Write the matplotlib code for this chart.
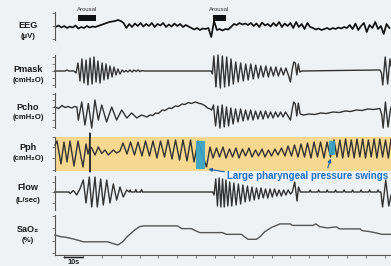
import numpy as np
import matplotlib
matplotlib.use('Agg')
import matplotlib.pyplot as plt
from matplotlib.patches import Rectangle

plt.rcParams['font.family'] = ['Liberation Sans', 'DejaVu Sans']

W, H, DPI = 391, 266, 100
BG = '#eef2f5'
TRACE = '#333333'

# ---------------- data (time in seconds) ----------------
t_start, t_end = -4.88, 173.37
tick_times = list(range(0, 171, 10))
scale_bar = (0, 10)

# EEG, sampled every 1.5 s from -4.5 s (arbitrary units)
eeg_t0, eeg_dt = -4.5, 1.5
eeg_v = [-1, 0.5, -1.5, 0, -2, -0.5, -1.5, 0.5, -2.5, -1, -2, 0, -1.5, -0.5, -1, 0,
         1, 2, 3, 4, 4.5, 5, 6,
         5, 3, -2, 2, -1, 2.5, 0, 3, -0.5, 2, 0, 3, -1, 2, 0.5, 3, -1, 1.5, -0.5, 2.5, 0, 2, -1, 1, -0.5,
         -2, -3.5, -2, -4, -2.5, -3, -2,
         -11, 5,
         -4, -3, -4.5, -3, -3.5, -1,
         2, 1, 3, 1.5, 2.5, 1,
         3, 0, 2.5, -1, 3.5, 0.5, 2, -0.5, 3, 0, 4, -1, 2.5, 0, 3, -2, 4, -1, 2, -3, 3, -1,
         -2, -3.5, -2.5, -4, -3, -2, -3.5, -2, -3, -1.5, -2.5, -1, -2,
         1, -3, 2.5, -4, 0, 3, -6, 1, -2, 4, -3, 0, -8, 2, -2]

arousal_start = [7.3, 78.8]
arousal_end = [16.9, 85.8]

pmask_t = [-4.9, 0.4, 1.5, 2.5, 5.2, 6.3, 7.3, 8.4, 9.4, 10.5,
           11.6, 12.6, 13.7, 14.8, 15.8, 16.9, 17.9, 19.0, 20.1, 21.1,
           22.2, 23.2, 24.3, 25.4, 26.4, 27.5, 28.5, 29.6, 30.7, 31.7,
           32.8, 33.8, 34.9, 36.0, 37.0, 38.1, 39.2, 40.2, 41.3, 42.3,
           78.0, 78.6, 79.4, 80.5, 81.6, 82.8, 83.9, 85.1, 86.2, 87.4,
           88.5, 89.7, 91.0, 92.3, 93.6, 95.0, 96.3, 97.6, 99.0, 100.3,
           101.6, 103.0, 104.3, 105.6, 107.0, 108.3, 109.6, 111.0, 112.3, 113.6,
           115.0, 116.3, 117.6, 118.9, 120.0, 121.0, 121.8, 122.6, 123.4, 124.2,
           125.0, 126.0, 145.0, 167.5, 168.3, 169.0, 170.3, 171.6, 172.8, 173.4]
pmask_v = [0, 0, 1, 0, 0, -2, 8, -10, 12, -12,
           11, -14, 13, -13, 14, -11, 10, -12, 8, -9,
           7, -8, 5, -6, 4, -4, 2, -3, 1, -1,
           0.5, -1, 1, -1, 1, -0.5, 1, -0.5, 0.5, 0,
           0, -3, 15, -16, 16, -17, 15, -16, 14, -15,
           12, -13, 9, -11, 8, -10, 7, -9, 7, -8,
           6, -7, 5, -6, 5, -6, 4, -5, 4, -5,
           3, -4, 3, -4, -11, 2, 9, 8, -4, 7,
           -1, 0, 0.5, 1, -2, -14, 14, -13, 12, 5]

pcho_t = [-4.9, -3.0, -1.2, 0.4, 2.0, 4.0, 5.5, 6.7, 7.5, 9.3,
          11.0, 12.8, 14.6, 16.3, 18.1, 19.9, 22.5, 25.2, 27.8, 30.5,
          33.2, 35.8, 38.5, 41.1, 43.8, 45.5, 47.0, 48.5, 50.0, 52.0,
          53.5, 55.5, 57.0, 59.0, 60.5, 62.5, 64.0, 66.0, 67.5, 69.5,
          71.0, 73.0, 74.5, 76.0, 77.5, 78.3,
          79.2, 80.3, 81.5, 82.6, 83.8, 84.9, 86.1, 87.2, 88.4, 89.6,
          90.9, 92.2, 93.6, 94.9, 96.2, 97.5, 98.9, 100.2, 101.5, 102.8,
          104.2, 105.5, 106.8, 108.1, 109.5, 110.8, 112.1, 113.4, 114.8, 116.1,
          117.4, 118.7, 120.0, 121.0, 121.8, 122.6, 123.4, 124.2, 125.2, 126.9,
          130, 133, 136, 139, 142.7, 146, 149, 152, 155, 158,
          161, 164, 167.5, 168.5, 169.2, 170.4, 171.8, 173.0, 173.4]
pcho_v = [0, -1.5, 1.5, -0.5, 0.5, -1, 0.5, 0, -13, 5,
          -18, 3.5, -21, 7, -13, 2, -15, 0, -13, -3,
          -11, -6, -11, -8, -10, -8, -8.5, -6, -6.5, -3,
          -3.5, -1, -1.5, 1, 0.5, 3, 2.5, 4.5, 3.5, 5,
          4, 3, 1.5, -1, -2, -3,
          2, -19, 1, -21, 2, -20, 0, -19, -1, -17,
          -2, -15, -2, -14, -3, -13, -3, -13, -4, -12,
          -4, -12, -4, -11, -5, -11, -5, -10, -5, -10,
          -5, -9, -13, -2, 5, 3, -9, 4, -7, -8,
          -7, -7.5, -6, -6.5, -5, -5.5, -4, -4.5, -3, -3.5,
          -2, -2.5, -1.5, -8, -21, 5, -20, -3, 0]

pph_t = [-4.88, -3.82, -1.70, -0.11, 1.49, 3.08, 5.20, 7.32, 9.97, 11.57,
         12.63, 13.4, 13.6, 13.7, 13.85, 14.59, 16.34, 18.09, 19.89, 21.64,
         23.4, 26.05, 27.85, 29.6,
         31.19, 33.32, 35.17, 37.29, 39.15, 41.27, 43.13, 45.25, 47.11, 49.23,
         51.09, 53.21, 55.07, 57.19, 59.05, 61.17, 63.02, 65.15, 67.0, 68.86,
         70.98, 75.49,
         77.35, 78.94, 80.80, 82.39, 84.24, 85.84, 87.69, 89.28, 91.14, 92.73,
         94.59, 96.18, 98.04, 99.63, 101.49, 103.08, 104.93, 106.53, 108.38, 109.98,
         111.83, 113.42,
         115.28, 117.13, 118.73, 120.58, 122.17, 124.03, 125.62, 127.48, 129.07, 130.93,
         132.52, 134.38, 135.97, 137.83, 139.42, 141.27, 143.13,
         144.72, 146.26, 147.74, 149.28, 150.77, 152.31, 153.79, 155.33, 156.82, 158.35,
         159.84, 161.38, 162.86, 164.40, 165.89, 167.43, 168.91, 170.45, 171.94, 173.37]
pph_v = [5, 9, -14, 8, -12, 9, -16, 9, -17, 6,
         -4, 2, 17, -22, 3, 2, -5, 3, -3.5, 0,
         -5, 0, -3, -1,
         7, -4, 8, -5, 8, -6, 9, -6, 9, -8,
         9, -7, 10, -9, 10, -10, 10, -11, 10, -12,
         9, -17,
         3, -8, 2, -7, 3, -8, 1, -7, 2, -8,
         1, -6, 2, -7, 0, -6, 1, -7, 0, -6,
         1, -5,
         2, -6, 4, -6, 5, -7, 6, -7, 7, -8,
         8, -7, 8, -8, 8, -7, 10,
         -7, 10, -8, 11, -7, 10, -8, 11, -7, 11,
         -8, 10, -7, 11, -8, 11, -7, 10, -8, 11]

# highlighted large swings (time span, value span)
swing_t0 = [69.8, 140.5]
swing_t1 = [74.7, 143.7]
swing_lo = [-19, -5]
swing_hi = [9, 9]
swing_label = 'Large pharyngeal pressure swings'

flow_t = [-4.9, 2.5, 3.3, 4.0, 4.8, 5.5, 6.63, 8.38, 10.13, 11.57,
          13.32, 14.59, 16.34, 17.56, 19.36, 20.74, 22.55, 24.30, 26.05, 27.85,
          29.60, 31.35, 33.16, 34.5, 35.0, 35.5, 37.5, 38.0, 38.5, 40.5,
          41.0, 41.5, 78.8,
          79.5, 80.4, 81.3, 82.2, 83.1, 84.0, 84.9, 85.8, 86.8, 87.8,
          88.9, 90.0, 91.2, 92.4, 93.6, 94.8, 96.0, 97.2, 98.4, 99.6,
          100.8, 102.0, 103.2, 104.4, 105.6, 106.8, 108.0, 109.2, 110.4, 111.6,
          112.8, 114.0, 115.2, 116.4, 117.6, 118.8, 120.0, 121.0, 122.3, 123.5,
          124.3, 125.3,
          130.0, 130.5, 131.0, 134.5, 135.0, 135.5, 139.0, 139.5, 140.0,
          143.5, 144.0, 144.5, 148.0, 148.5, 149.0, 152.5, 153.0, 153.5,
          157.0, 157.5, 158.0, 161.5, 162.0, 162.5, 166.0, 166.5, 167.0,
          168.0, 168.9, 170.6, 172.2, 173.4]
flow_v = [0, 0, -1.5, 0, 1.5, 0, -3, 3.3, 12, -11,
          15, -15, 15, -15, 13, -13, 12, -11, 8, -8,
          5, -5, 2, 0, 2, 0, 0, 2.5, 0, 0,
          2.5, 0, 0,
          -3, 13, -14, 14, -15, 13, -15, 12, -14, 10,
          -14, 9, -13, 8, -12, 7, -10, 6, -9, 5,
          -8, 4, -7, 4, -6, 3, -6, 3, -5, 3,
          -4, 2, -4, 2, -3, 2, -2, 0, 10, -9,
          5, 0,
          0, 2, 0, 0, 2, 0, 0, 2, 0,
          0, 2, 0, 0, 2, 0, 0, 2, 0,
          0, 2, 0, 0, 2, 0, 0, 2, 0,
          0, -15, 12, -14, -3]

sao2_t = [-4.9, -3.5, -1.5, 1.0, 4.5, 7.5, 10.0, 23.0, 25.5, 28.5,
          31.0, 33.5, 35.5, 37.5, 40.0, 42.0, 60.0, 62.5, 67.5, 69.5,
          72.0, 84.0, 86.0, 94.0, 96.0, 97.5, 102.0, 104.0, 106.5, 110.0,
          114.5, 120.0, 121.0, 132.0, 133.5, 135.5, 139.5, 144.5, 146.0, 157.0,
          158.0, 162.0, 166.5, 168.5, 173.4]
sao2_v = [92.3, 92.0, 91.6, 91.4, 90.8, 90.2, 89.6, 89.6, 89.0, 88.3,
          89.6, 91.7, 93.1, 94.4, 95.7, 96.0, 96.0, 94.9, 94.9, 94.1,
          93.3, 93.3, 92.6, 92.6, 91.4, 90.6, 90.6, 91.7, 93.7, 95.4,
          96.8, 96.8, 96.2, 96.2, 96.8, 95.7, 95.2, 95.6, 94.8, 94.8,
          94.1, 93.7, 93.0, 92.6, 92.6]

labels = [('EEG', '(µV)'), ('Pmask', '(cmH₂O)'), ('Pcho', '(cmH₂O)'),
          ('Pph', '(cmH₂O)'), ('Flow', '(L/sec)'), ('SaO₂', '(%)')]

# ---------------- layout helpers ----------------
fig = plt.figure(figsize=(W / DPI, H / DPI), dpi=DPI, facecolor=BG)


def panel(top, bottom, ylim, ticks, bounds, face='none'):
    ax = fig.add_axes([55 / W, 1 - bottom / H, (W - 55) / W, (bottom - top) / H])
    ax.set_facecolor(face)
    ax.set_xlim(t_start, t_end)
    ax.set_ylim(*ylim)
    for s in ['top', 'right', 'bottom']:
        ax.spines[s].set_visible(False)
    ax.spines['left'].set_color('#555555')
    ax.spines['left'].set_linewidth(0.8)
    ax.spines['left'].set_bounds(*bounds)
    ax.set_yticks(ticks)
    ax.set_xticks([])
    ax.tick_params(axis='y', direction='out', length=2.2, width=0.6, color='#666666',
                   labelleft=False)
    return ax


ax_eeg = panel(4, 44, (-18, 22), [13, 0, -13], (-14, 14))
ax_pm = panel(53, 90, (-19, 18), [14, 7, 0, -7, -14], (-16, 16))
ax_pc = panel(91, 130, (-23, 16), [13, 7, 0, -6, -13, -20], (-21, 14))
ax_pph = panel(137, 171, (-21, 13), [13, 3, -8, -20], (-21, 13), face='#f6d890')
ax_fl = panel(174, 211, (-19, 18), [10, 0, -11], (-18, 16))
ax_sa = panel(214, 255, (84.27, 100.8), [85, 90, 95, 100], (84.27, 100.5))

# bottom time axis
ax_sa.spines['bottom'].set_visible(True)
ax_sa.spines['bottom'].set_color('#555555')
ax_sa.spines['bottom'].set_linewidth(0.8)
ax_sa.set_xticks(tick_times)
ax_sa.tick_params(axis='x', direction='out', length=2.2, width=0.6, color='#666666',
                  labelbottom=False)

# ---------------- traces ----------------
eeg_t = eeg_t0 + eeg_dt * np.arange(len(eeg_v))
ax_eeg.plot(eeg_t, eeg_v, color='#111111', lw=1.25, clip_on=False)
ax_pm.plot(pmask_t, pmask_v, color=TRACE, lw=1.0, clip_on=False)
ax_pc.plot(pcho_t, pcho_v, color=TRACE, lw=1.0, clip_on=False)
ax_pph.plot(pph_t, pph_v, color=TRACE, lw=1.0, clip_on=False, zorder=3)
ax_fl.plot(flow_t, flow_v, color=TRACE, lw=1.0, clip_on=False)
ax_sa.plot(sao2_t, sao2_v, color='#555555', lw=1.0, clip_on=False)

# arousal markers
for a0, a1 in zip(arousal_start, arousal_end):
    ax_eeg.add_patch(Rectangle((a0, 5.3), a1 - a0, 5.7, color='#111111', lw=0, clip_on=False))
    ax_eeg.text((a0 + a1) / 2, 16.5, 'Arousal', ha='center', va='center', fontsize=4.3,
                color='#333333', clip_on=False)

# highlighted swings
for t0, t1, lo, hi in zip(swing_t0, swing_t1, swing_lo, swing_hi):
    ax_pph.add_patch(Rectangle((t0, lo), t1 - t0, hi - lo, facecolor='#35a2c8',
                               edgecolor='none', alpha=0.92, zorder=4))

arrow_kw = dict(arrowstyle='-|>', color='#1d5fa5', lw=0.8, mutation_scale=5)
ax_pph.annotate('', xy=(75.0, -18.7), xytext=(86.5, -22.3), arrowprops=arrow_kw,
                annotation_clip=False)
ax_pph.annotate('', xy=(141.8, -6), xytext=(139.4, -20.5), arrowprops=arrow_kw,
                annotation_clip=False)
fig.text(227 / W, 1 - 176 / H, swing_label, ha='left', va='center', fontsize=7.0,
         fontweight='bold', color='#1f72c4')

# scale bar
ax_sa.annotate('', xy=(scale_bar[0], H - 257.5), xytext=(scale_bar[1], H - 257.5),
               xycoords=('data', 'figure pixels'), textcoords=('data', 'figure pixels'),
               arrowprops=dict(arrowstyle='-', color='#222222', lw=1.1, shrinkA=0, shrinkB=0),
               annotation_clip=False)
ax_sa.annotate('10s', xy=((scale_bar[0] + scale_bar[1]) / 2, H - 259.3),
               xycoords=('data', 'figure pixels'), ha='center', va='top', fontsize=5.3,
               fontweight='bold', color='#222222', annotation_clip=False)

# panel labels
label_y = [(25, 36), (70, 80.5), (107.5, 118), (147.5, 158.5), (187.5, 200), (229, 241)]
for (l1, l2), (y1, y2) in zip(labels, label_y):
    fig.text(28 / W, 1 - y1 / H, l1, ha='center', va='center', fontsize=6.6,
             fontweight='bold', color='#1a1a1a')
    fig.text(28 / W, 1 - y2 / H, l2, ha='center', va='center', fontsize=5.6,
             fontweight='bold', color='#1a1a1a')

fig.savefig('out.png', dpi=DPI, facecolor=BG)
